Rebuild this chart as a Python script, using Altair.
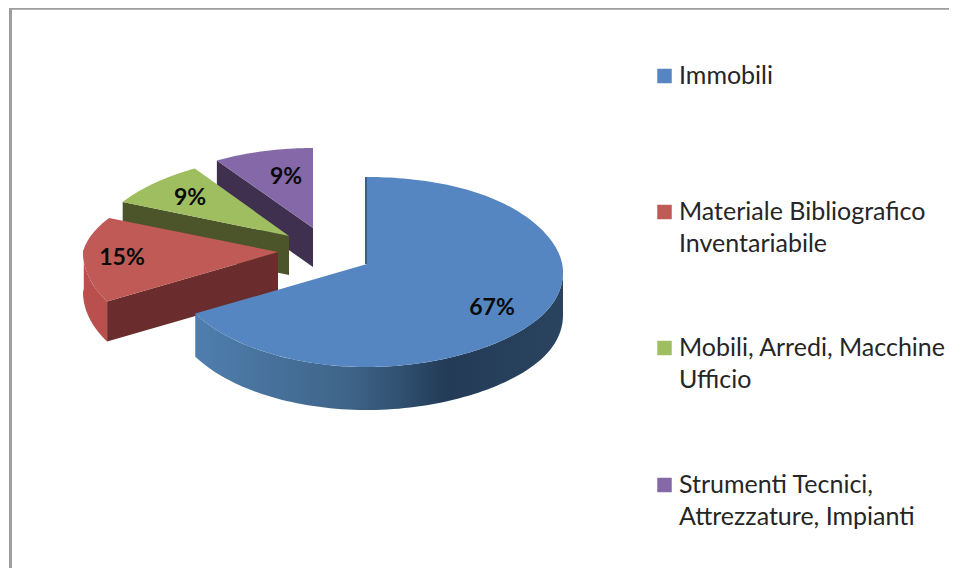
import math
import altair as alt

# ---- chart values ----
categories = ["Immobili", "Materiale Bibliografico Inventariabile",
              "Mobili, Arredi, Macchine Ufficio", "Strumenti Tecnici, Attrezzature, Impianti"]
shares = [67, 15, 9, 9]
labels = ["67%", "15%", "9%", "9%"]
legend_lines = [["Immobili"], ["Materiale Bibliografico", "Inventariabile"],
                ["Mobili, Arredi,  Macchine", "Ufficio"], ["Strumenti Tecnici,", "Attrezzature, Impianti"]]
title_text = "Profili patrimoniali -  percentuali di composizione esercizio 2008"

# ---- styling and layout (page pixels) ----
top_colors = ["#5586C1", "#BF5A56", "#9FBE60", "#8568A8"]
wall_colors = [None, "#6A2C2C", "#4B5529", "#3F3050"]
apex = [(367, 264), (278, 252), (289, 236), (313, 228)]
radius_x = [196, 195, 192, 196]
radius_up = [87, 80, 80, 80]
radius_low = [103, 103, 103, 103]
depth = [43, 40, 39, 39]
label_at = [(492, 308), (122, 258), (190, 198), (286, 177)]
legend_y = [76, 212, 348, 485]
legend_line_gap = 32
W, H = 941, 560


def ox(v):
    return v - 8


def point(i, theta_deg):
    t = math.radians(theta_deg)
    s, c = math.sin(t), math.cos(t)
    x = radius_x[i] * s
    if c > 0 and i > 0:
        x *= 1 - 0.1 * c
    y = -radius_up[i] * c if c > 0 else -radius_low[i] * c
    if s > 0:
        y += 8 * s ** 4
    return (apex[i][0] + x, apex[i][1] + y)


def arc(i, a0, a1, n=90):
    return [point(i, a0 + (a1 - a0) * k / n) for k in range(n + 1)]


def shape(points, fill):
    ring = [[ox(x), ox(y)] for x, y in points]
    ring.append(ring[0])
    feature = {"type": "Feature", "properties": {},
               "geometry": {"type": "Polygon", "coordinates": [ring]}}
    return alt.Chart(alt.InlineData(values=[feature])).mark_geoshape(fill=fill, strokeWidth=0).project(
        type="identity", scale=1, translate=[0, 0])


def gradient(stops):
    return alt.LinearGradient(gradient="linear", x1=0, x2=1, y1=0, y2=0,
                              stops=[alt.GradientStop(offset=o, color=c) for o, c in stops])


# slice angles, clockwise from 12 o'clock
starts = []
acc = 0
for v in shares:
    starts.append(acc * 3.6)
    acc += v
ends = [s + v * 3.6 for s, v in zip(starts, shares)]

layers = []
# back slices first: purple, green, red
for i in (3, 2, 1):
    ap = apex[i]
    corner = point(i, starts[i])
    d = depth[i]
    if i == 1:
        wall_arc = arc(i, starts[i], 272)
        layers.append(shape(wall_arc + [(x, y + d) for x, y in reversed(wall_arc)], "#B9504D"))
    layers.append(shape([ap, corner, (corner[0], corner[1] + d), (ap[0], ap[1] + d)], wall_colors[i]))
    layers.append(shape([ap] + arc(i, starts[i], ends[i]), top_colors[i]))

# main slice: outer wall with its shading, then the top face
m = arc(0, 90, ends[0])
layers.append(shape(m + [(x, y + depth[0]) for x, y in reversed(m)],
                    gradient([(0, "#4F7EAE"), (0.42, "#3F6488"), (0.56, "#30506F"),
                              (0.68, "#233B57"), (1, "#2A435F")])))
layers.append(shape([(apex[0][0] - 2, apex[0][1]), (point(0, 0)[0] - 2, point(0, 0)[1]),
                     point(0, 0), apex[0]], "#3A5F88"))
layers.append(shape([apex[0]] + arc(0, 0, ends[0], 180), top_colors[0]))

px_x = alt.Scale(domain=[0, W], range=[0, W])
px_y = alt.Scale(domain=[0, H], range=[0, H])
X = alt.X("x:Q", scale=px_x, axis=None)
Y = alt.Y("y:Q", scale=px_y, axis=None)

# frame
frame_top = alt.Chart(alt.InlineData(values=[{"x": 2.5, "x2": W, "y": 0.8}])).mark_rule(
    color="#9E9E9E", strokeWidth=2).encode(x=X, x2="x2:Q", y=Y)
frame_left = alt.Chart(alt.InlineData(values=[{"x": 2.5, "y": 0, "y2": H}])).mark_rule(
    color="#9E9E9E", strokeWidth=3).encode(x=X, y=Y, y2="y2:Q")

# percentage labels
label_rows = [{"x": ox(p[0]), "y": ox(p[1]), "t": t} for p, t in zip(label_at, labels)]
label_layer = alt.Chart(alt.InlineData(values=label_rows)).mark_text(
    font="Lato", fontSize=23, fontWeight="bold", color="#0A0A0A", align="center", baseline="middle"
).encode(x=X, y=Y, text="t:N")

# legend
swatch_rows = [{"x": ox(664.5), "y": ox(y), "c": c} for y, c in zip(legend_y, categories)]
swatches = alt.Chart(alt.InlineData(values=swatch_rows)).mark_square(size=210, opacity=1).encode(
    x=X, y=Y,
    color=alt.Color("c:N", scale=alt.Scale(domain=categories, range=top_colors), legend=None))
text_rows = []
for y, lines in zip(legend_y, legend_lines):
    for k, line in enumerate(lines):
        text_rows.append({"x": ox(679), "y": ox(y + k * legend_line_gap), "t": line})
legend_text = alt.Chart(alt.InlineData(values=text_rows)).mark_text(
    font="Lato", fontSize=25, color="#262626", align="left", baseline="middle"
).encode(x=X, y=Y, text="t:N")

# the heading stands at its own place: cut by the top of the picture, as in the reference
title_layer = alt.Chart(alt.InlineData(values=[{"x": 0, "y": -6, "t": title_text}])).mark_text(
    font="Lato", fontSize=27, color="#4BACC6", align="left", baseline="alphabetic"
).encode(x=X, y=Y, text="t:N")

chart = alt.layer(*layers, frame_top, frame_left, swatches, legend_text, label_layer, title_layer).resolve_scale(
    color="independent"
).properties(
    width=W, height=H, padding=0, autosize=alt.AutoSizeParams(type="none")
).configure_view(stroke=None)

chart.save("out.html", embed_options={"renderer": "svg", "actions": False})
